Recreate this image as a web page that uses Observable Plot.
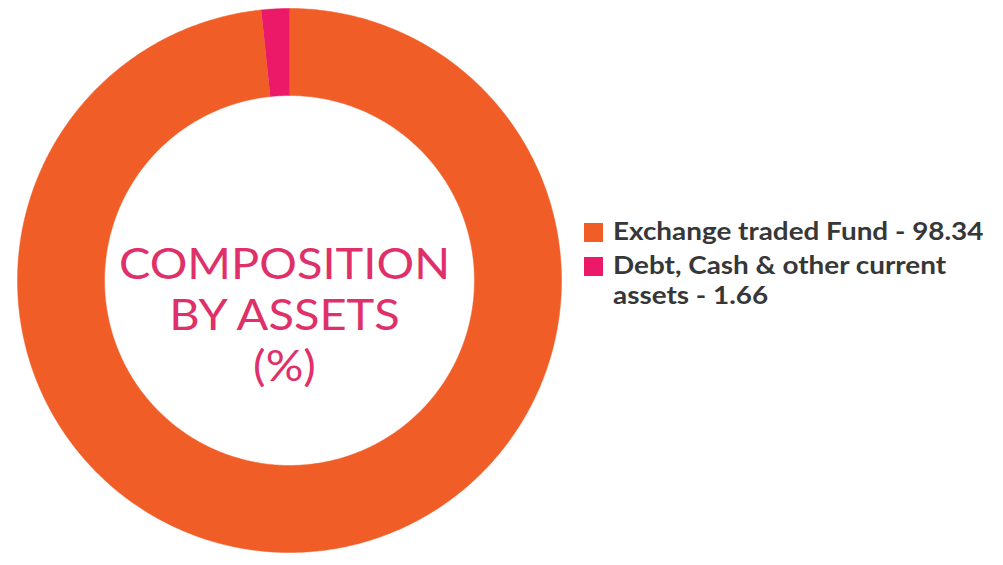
<!DOCTYPE html>
<html>
<head>
<meta charset="utf-8">
<script src="https://cdn.jsdelivr.net/npm/d3@7"></script>
<script src="https://cdn.jsdelivr.net/npm/@observablehq/plot@0.6"></script>
<style>
  html, body { margin: 0; padding: 0; background: #ffffff; }
  #wrap { position: relative; width: 1003px; height: 565px; overflow: hidden; }
  #legend { position: absolute; left: 584px; top: 215px; font-family: Lato, sans-serif; font-weight: 700; font-size: 25px; line-height: 30px; color: #373737; }
  .item { display: flex; align-items: flex-start; margin-bottom: 4px; }
  .sw { width: 19px; height: 19px; margin-top: 8px; margin-right: 10px; flex: none; }
  .lbl { width: 340px; transform: scaleX(1.115); transform-origin: left top; }
</style>
</head>
<body>
<div id="wrap"></div>
<script>
const categories = ["Exchange traded Fund", "Debt, Cash & other current assets"];
const values = [98.34, 1.66];
const colors = ["#f15d27", "#ec1968"];
const centerTitle = ["COMPOSITION", "BY ASSETS", "(%)"];

const innerRatio = 0.68;
const data = categories.map((c, i) => ({category: c, value: values[i]}));
const arcs = d3.pie().value(d => d.value)(data);

// polygon points of each ring slice, in unit coordinates (y up)
const pts = [];
for (const a of arcs) {
  const n = Math.max(8, Math.ceil((a.endAngle - a.startAngle) / 0.01));
  for (let k = 0; k <= n; k++) {
    const t = a.startAngle + (a.endAngle - a.startAngle) * k / n;
    pts.push({category: a.data.category, x: Math.sin(t), y: Math.cos(t)});
  }
  for (let k = n; k >= 0; k--) {
    const t = a.startAngle + (a.endAngle - a.startAngle) * k / n;
    pts.push({category: a.data.category, x: innerRatio * Math.sin(t), y: innerRatio * Math.cos(t)});
  }
}

const chart = Plot.plot({
  width: 1003,
  height: 565,
  margin: 0,
  style: {background: "transparent", overflow: "visible"},
  x: {domain: [-1, 1], range: [17, 561], axis: null},
  y: {domain: [-1, 1], range: [552, 8], axis: null},
  color: {domain: categories, range: colors},
  marks: [
    Plot.line(pts, {x: "x", y: "y", z: "category", fill: "category", stroke: "category", strokeWidth: 0.5, curve: "linear"}),
    Plot.text([centerTitle.join("\n")], {
      x: () => 0, y: () => 0, text: d => d,
      dx: -5, dy: 33,
      fontSize: 42, lineHeight: 1.21,
      fontFamily: "Lato, sans-serif", fontWeight: 400,
      fill: "#e0306a"
    })
  ]
});
// the reference lettering is slightly wide: stretch the centre title horizontally
d3.select(chart).selectAll("g[aria-label='text'] text").each(function() {
  const t = this.getAttribute("transform") || "";
  this.setAttribute("transform", t + " scale(1.12,1)");
});
const wrap = document.getElementById("wrap");
wrap.appendChild(chart);

const legend = document.createElement("div");
legend.id = "legend";
categories.forEach((c, i) => {
  const item = document.createElement("div");
  item.className = "item";
  const sw = document.createElement("div");
  sw.className = "sw";
  sw.style.background = colors[i];
  const lbl = document.createElement("div");
  lbl.className = "lbl";
  lbl.textContent = `${c} - ${values[i]}`;
  item.appendChild(sw);
  item.appendChild(lbl);
  legend.appendChild(item);
});
wrap.appendChild(legend);
</script>
</body>
</html>
